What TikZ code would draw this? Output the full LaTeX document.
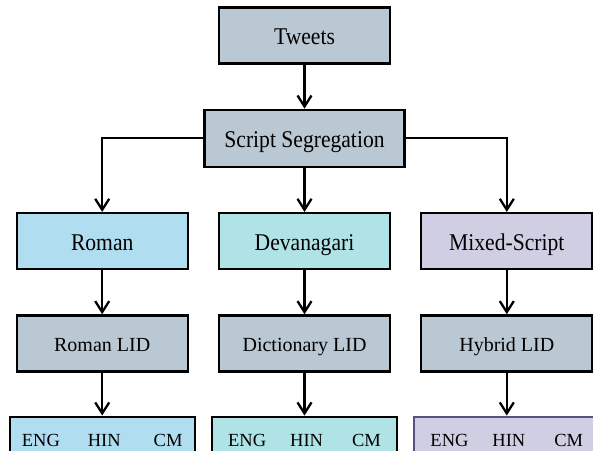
\documentclass[tikz,border=0pt]{standalone}
\usepackage{fontspec}
\setmainfont{Liberation Serif}
\newfontfamily\narrowserif{Liberation Serif}[FakeStretch=0.9]
\usetikzlibrary{arrows.meta,positioning}

\definecolor{slate}{HTML}{BAC8D3}
\definecolor{skyblue}{HTML}{B1DDF0}
\definecolor{aqua}{HTML}{B0E3E6}
\definecolor{lilac}{HTML}{D0CEE2}
\definecolor{lilacline}{HTML}{56517E}

\newcommand{\langrow}[2]{ENG\hspace{#1}HIN\hspace{#2}CM}

\begin{document}
\begin{tikzpicture}[
  x=1pt, y=1pt,
  node distance=44pt and 29pt,
  block/.style={draw, line width=2.3pt, minimum width=171pt, minimum height=56pt, align=center,
    text height=19pt, text depth=0pt, font=\narrowserif\fontsize{24}{28}\selectfont},
  lidblock/.style={block, text height=16pt, font=\fontsize{20}{24}\selectfont},
  langs/.style={draw, line width=2.3pt, minimum width=185pt, minimum height=44pt,
    text height=15pt, text depth=0pt, font=\fontsize{18.5}{22}\selectfont},
  line/.style={-{Straight Barb[length=11pt,width=14pt]}, line width=2.3pt}
]
\useasboundingbox (0,0) rectangle (593,450);
\clip (0,0) rectangle (593,450);

\node[block, fill=slate] (tweets) at (304.5,414.5) {Tweets};
\node[block, fill=slate, minimum width=200pt, minimum height=57pt, below=of tweets] (seg) {Script Segregation};

\node[block, fill=aqua, below=of seg] (deva) {Devanagari};
\node[block, fill=skyblue, left=of deva] (roman) {Roman};
\node[block, fill=lilac, right=of deva] (mixed) {Mixed-Script};

\node[lidblock, fill=slate, below=of roman] (romanlid) {Roman LID};
\node[lidblock, fill=slate, below=of deva] (dictlid) {Dictionary LID};
\node[lidblock, fill=slate, below=of mixed] (hybridlid) {Hybrid LID};

\node[langs, fill=skyblue, below=43pt of romanlid] (romanout) {\langrow{28pt}{33pt}};
\node[langs, fill=aqua, below=43pt of dictlid] (devaout) {\langrow{24pt}{29pt}};
\node[langs, fill=lilac, draw=lilacline, below=43pt of hybridlid] (mixedout) {\langrow{24pt}{29pt}};

\draw[line] (tweets) -- (seg);
\draw[line] (seg.west) -| (roman.north);
\draw[line] (seg) -- (deva);
\draw[line] (seg.east) -| (mixed.north);

\draw[line] (roman) -- (romanlid);
\draw[line] (deva) -- (dictlid);
\draw[line] (mixed) -- (hybridlid);

\draw[line] (romanlid) -- (romanout);
\draw[line] (dictlid) -- (devaout);
\draw[line] (hybridlid) -- (mixedout);
\end{tikzpicture}
\end{document}
